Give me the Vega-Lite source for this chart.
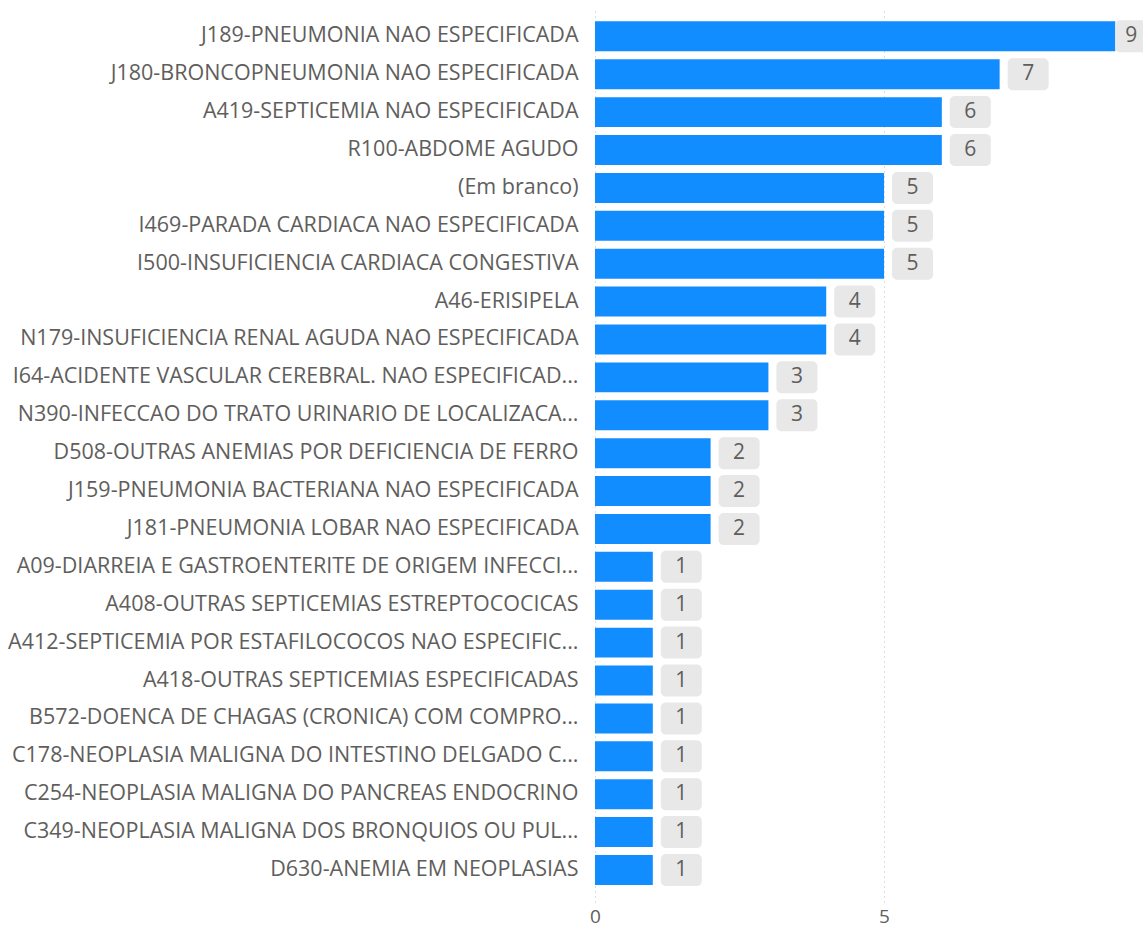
{
  "$schema": "https://vega.github.io/schema/vega-lite/v6.json",
  "autosize": {"type": "none"},
  "width": 548,
  "height": 892,
  "padding": {"left": 595, "top": 10, "right": 0, "bottom": 28},
  "background": "white",
  "config": {
    "view": {"stroke": null},
    "font": "Open Sans",
    "axis": {"labelFont": "Open Sans", "labelColor": "#605E5C"}
  },
  "data": {
    "values": [
      {"cid": "J189-PNEUMONIA NAO ESPECIFICADA", "value": 9},
      {"cid": "J180-BRONCOPNEUMONIA NAO ESPECIFICADA", "value": 7},
      {"cid": "A419-SEPTICEMIA NAO ESPECIFICADA", "value": 6},
      {"cid": "R100-ABDOME AGUDO", "value": 6},
      {"cid": "(Em branco)", "value": 5},
      {"cid": "I469-PARADA CARDIACA NAO ESPECIFICADA", "value": 5},
      {"cid": "I500-INSUFICIENCIA CARDIACA CONGESTIVA", "value": 5},
      {"cid": "A46-ERISIPELA", "value": 4},
      {"cid": "N179-INSUFICIENCIA RENAL AGUDA NAO ESPECIFICADA", "value": 4},
      {"cid": "I64-ACIDENTE VASCULAR CEREBRAL. NAO ESPECIFICAD...", "value": 3},
      {"cid": "N390-INFECCAO DO TRATO URINARIO DE LOCALIZACA...", "value": 3},
      {"cid": "D508-OUTRAS ANEMIAS POR DEFICIENCIA DE FERRO", "value": 2},
      {"cid": "J159-PNEUMONIA BACTERIANA NAO ESPECIFICADA", "value": 2},
      {"cid": "J181-PNEUMONIA LOBAR NAO ESPECIFICADA", "value": 2},
      {"cid": "A09-DIARREIA E GASTROENTERITE DE ORIGEM INFECCI...", "value": 1},
      {"cid": "A408-OUTRAS SEPTICEMIAS ESTREPTOCOCICAS", "value": 1},
      {"cid": "A412-SEPTICEMIA POR ESTAFILOCOCOS NAO ESPECIFIC...", "value": 1},
      {"cid": "A418-OUTRAS SEPTICEMIAS ESPECIFICADAS", "value": 1},
      {"cid": "B572-DOENCA DE CHAGAS (CRONICA) COM COMPRO...", "value": 1},
      {"cid": "C178-NEOPLASIA MALIGNA DO INTESTINO DELGADO C...", "value": 1},
      {"cid": "C254-NEOPLASIA MALIGNA DO PANCREAS ENDOCRINO", "value": 1},
      {"cid": "C349-NEOPLASIA MALIGNA DOS BRONQUIOS OU PUL...", "value": 1},
      {"cid": "D630-ANEMIA EM NEOPLASIAS", "value": 1}
    ]
  },
  "encoding": {
    "y": {
      "field": "cid", "type": "nominal", "sort": null, "title": null,
      "scale": {"paddingInner": 0.21, "paddingOuter": 0.375, "align": 0.4},
      "axis": {"ticks": false, "domain": false, "labelPadding": 17, "labelFontSize": 21.5, "labelLimit": 700, "grid": false}
    }
  },
  "layer": [
    {
      "mark": {"type": "bar", "color": "#118DFF", "clip": true},
      "encoding": {
        "x": {
          "field": "value", "type": "quantitative", "title": null,
          "scale": {"domain": [0, 9.48], "nice": false},
          "axis": {"values": [0, 5], "format": "d", "ticks": false, "domain": false, "grid": true, "gridDash": [1, 4], "gridColor": "#BDBDBD", "gridWidth": 1, "labelFontSize": 19, "labelPadding": 5, "labelFlush": false}
        }
      }
    },
    {
      "transform": [{"filter": "datum.value < 9"}],
      "mark": {"type": "bar", "color": "#E8E8E8", "cornerRadius": 5, "xOffset": 8, "x2Offset": 49, "size": 32, "clip": true},
      "encoding": {
        "x": {"field": "value", "type": "quantitative"},
        "x2": {"field": "value"}
      }
    },
    {
      "transform": [{"filter": "datum.value >= 9"}],
      "mark": {"type": "bar", "color": "#E8E8E8", "cornerRadius": 5, "xOffset": 0, "x2Offset": 41, "size": 32, "clip": true},
      "encoding": {
        "x": {"field": "value", "type": "quantitative"},
        "x2": {"field": "value"}
      }
    },
    {
      "transform": [{"filter": "datum.value < 9"}],
      "mark": {"type": "text", "dx": 28.5, "align": "center", "baseline": "middle", "fontSize": 21, "color": "#605E5C", "clip": true},
      "encoding": {
        "x": {"field": "value", "type": "quantitative"},
        "text": {"field": "value", "type": "quantitative"}
      }
    },
    {
      "transform": [{"filter": "datum.value >= 9"}],
      "mark": {"type": "text", "dx": 16, "align": "center", "baseline": "middle", "fontSize": 21, "color": "#605E5C", "clip": true},
      "encoding": {
        "x": {"field": "value", "type": "quantitative"},
        "text": {"field": "value", "type": "quantitative"}
      }
    }
  ]
}
